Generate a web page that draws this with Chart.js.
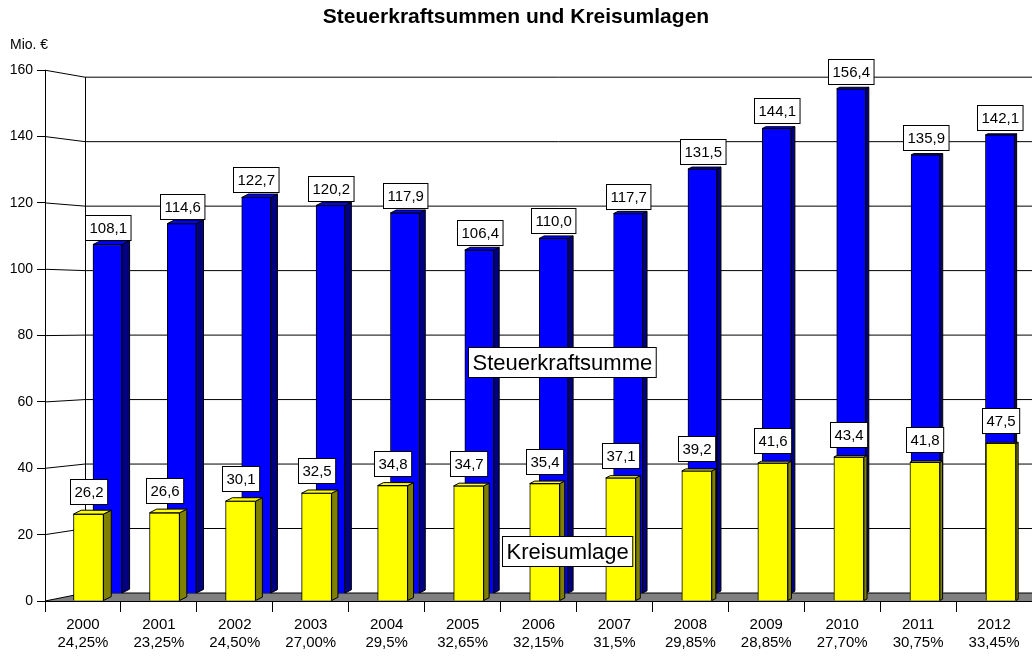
<!DOCTYPE html>
<html lang="de">

<head>
    <meta charset="UTF-8">
    <title>Steuerkraftsummen und Kreisumlagen</title>
    <style>
        body {
            margin: 0;
            background: #fff;
        }
    </style>
</head>

<body>
    <canvas id="myChart" width="1032" height="660"></canvas>

    <script src="https://cdn.jsdelivr.net/npm/chart.js"></script>

    <script>
        // data
        const years = ['2000', '2001', '2002', '2003', '2004', '2005', '2006', '2007', '2008', '2009', '2010', '2011', '2012'];
        const umlageSatz = ['24,25%', '23,25%', '24,50%', '27,00%', '29,5%', '32,65%', '32,15%', '31,5%', '29,85%', '28,85%', '27,70%', '30,75%', '33,45%'];
        const steuerkraft = [108.1, 114.6, 122.7, 120.2, 117.9, 106.4, 110.0, 117.7, 131.5, 144.1, 156.4, 135.9, 142.1];
        const kreisumlage = [26.2, 26.6, 30.1, 32.5, 34.8, 34.7, 35.4, 37.1, 39.2, 41.6, 43.4, 41.8, 47.5];
        const yTickMax = 160;
        const yTickStep = 20;

        const wallDepth = 40;   // back wall offset in px

        Chart.defaults.font.family = '"Liberation Sans", Arial, sans-serif';
        Chart.defaults.color = '#000';

        function fmt(v) {
            return v.toFixed(1).replace('.', ',');
        }

        function depthAt(chart, x) {
            const a = chart.chartArea;
            return 8 - 6 * (x - a.left) / (a.right - a.left);
        }

        function labelBox(ctx, text, cx, bottom, font, h) {
            ctx.font = font;
            const w = ctx.measureText(text).width + 8;
            const left = Math.round(cx - w / 2) + 0.5;
            const top = Math.round(bottom - h) + 0.5;
            ctx.fillStyle = '#fff';
            ctx.fillRect(left, top, w, h);
            ctx.strokeStyle = '#000';
            ctx.lineWidth = 1;
            ctx.strokeRect(left, top, w, h);
            ctx.fillStyle = '#000';
            ctx.textAlign = 'center';
            ctx.textBaseline = 'middle';
            ctx.fillText(text, left + w / 2, top + h / 2 + 1);
        }

        // floor, back wall grid, side faces, labels
        const pseudo3d = {
            id: 'pseudo3d',
            beforeDatasetsDraw(chart) {
                const { ctx, chartArea: a, scales } = chart;
                const yF = scales.y, yB = scales.y2;
                const back = a.left + wallDepth;
                ctx.save();
                ctx.fillStyle = '#808080';
                ctx.beginPath();
                ctx.moveTo(a.left, yF.getPixelForValue(0));
                ctx.lineTo(back, yB.getPixelForValue(0));
                ctx.lineTo(a.right, yB.getPixelForValue(0));
                ctx.lineTo(a.right, yF.getPixelForValue(0));
                ctx.closePath();
                ctx.fill();

                ctx.strokeStyle = '#000';
                ctx.lineWidth = 1;
                yF.ticks.forEach(t => {
                    ctx.beginPath();
                    ctx.moveTo(a.left, yF.getPixelForValue(t.value));
                    ctx.lineTo(back, yB.getPixelForValue(t.value));
                    ctx.lineTo(a.right, yB.getPixelForValue(t.value));
                    ctx.stroke();
                });
                ctx.beginPath();
                ctx.moveTo(back + 0.5, yB.getPixelForValue(0));
                ctx.lineTo(back + 0.5, yB.getPixelForValue(yTickMax));
                ctx.stroke();

                // Mio. €
                ctx.font = '14px "Liberation Sans", Arial';
                ctx.fillStyle = '#000';
                ctx.textAlign = 'left';
                ctx.textBaseline = 'middle';
                ctx.fillText('Mio. €', 10, a.top - 25);
                ctx.restore();
            },
            afterDatasetDraw(chart, args) {
                const { ctx } = chart;
                const meta = args.meta;
                const ds = chart.data.datasets[args.index];
                ctx.save();
                meta.data.forEach((bar, i) => {
                    const p = bar.getProps(['x', 'y', 'base', 'width'], true);
                    const right = p.x + p.width / 2;
                    const left = p.x - p.width / 2;
                    const dx = depthAt(chart, p.x);
                    const dy = dx * 0.5;
                    ctx.fillStyle = ds.sideColor;
                    ctx.strokeStyle = '#000';
                    ctx.lineWidth = 1;
                    ctx.beginPath();
                    ctx.moveTo(right, p.y);
                    ctx.lineTo(right + dx, p.y - dy);
                    ctx.lineTo(right + dx, p.base - dy);
                    ctx.lineTo(right, p.base);
                    ctx.closePath();
                    ctx.fill();
                    ctx.stroke();
                    ctx.fillStyle = ds.backgroundColor;
                    ctx.beginPath();
                    ctx.moveTo(left, p.y);
                    ctx.lineTo(left + dx, p.y - dy);
                    ctx.lineTo(right + dx, p.y - dy);
                    ctx.lineTo(right, p.y);
                    ctx.closePath();
                    ctx.fill();
                    ctx.stroke();

                    labelBox(ctx, fmt(ds.data[i].y), p.x, p.y - ds.labelGap, '15px "Liberation Sans", Arial', 25);
                });
                ctx.restore();
            },
            afterDatasetsDraw(chart) {
                const { ctx, scales } = chart;
                ctx.save();
                labelBox(ctx, 'Steuerkraftsumme', scales.xa.getPixelForValue(6.22), scales.y.getPixelForValue(67.5), '22px "Liberation Sans", Arial', 30);
                labelBox(ctx, 'Kreisumlage', scales.xa.getPixelForValue(6.3), scales.y.getPixelForValue(10.5), '22px "Liberation Sans", Arial', 30);
                ctx.restore();
            }
        };

        const ctx = document.getElementById('myChart').getContext('2d');
        const myChart = new Chart(ctx, {
            type: 'bar',
            data: {
                labels: years.map((y, i) => [y, umlageSatz[i]]),
                datasets: [{
                    label: 'Kreisumlage',
                    data: kreisumlage.map((v, i) => ({ x: i, y: v })),
                    xAxisID: 'xa',
                    yAxisID: 'y',
                    backgroundColor: '#ffff00',
                    sideColor: '#808000',
                    labelGap: 10,
                    borderColor: '#000',
                    borderWidth: 1,
                    barThickness: 30,
                    grouped: false,
                    order: 0
                }, {
                    label: 'Steuerkraftsumme',
                    data: steuerkraft.map((v, i) => ({ x: i, y: v })),
                    xAxisID: 'xb',
                    yAxisID: 'y2',
                    backgroundColor: '#0000ff',
                    sideColor: '#000080',
                    labelGap: 5,
                    borderColor: '#000',
                    borderWidth: 1,
                    barThickness: 29,
                    grouped: false,
                    order: 1
                }]
            },
            options: {
                responsive: false,
                animation: false,
                devicePixelRatio: 1,
                layout: { padding: { left: 0, right: 0, top: 0, bottom: 0 } },
                plugins: {
                    legend: { display: false },
                    tooltip: { enabled: false },
                    title: {
                        display: true,
                        text: 'Steuerkraftsummen und Kreisumlagen',
                        color: '#000',
                        font: { size: 21, weight: 'bold' },
                        padding: { top: 5, bottom: 40 }
                    }
                },
                scales: {
                    x: {
                        type: 'category',
                        offset: true,
                        grid: { offset: true, drawOnChartArea: false, tickLength: 11, color: '#000' },
                        border: { color: '#000', width: 1 },
                        ticks: { font: { size: 15 }, color: '#000', padding: 4, maxRotation: 0, autoSkip: false },
                        afterFit(scale) { scale.height = 59; }
                    },
                    xa: { type: 'linear', display: false, offset: false, min: -0.572, max: 12.408 },
                    xb: { type: 'linear', display: false, offset: false, min: -0.840, max: 12.431 },
                    y: {
                        min: 0,
                        max: yTickMax,
                        ticks: { stepSize: yTickStep, font: { size: 14 }, color: '#000', padding: 4 },
                        grid: { drawOnChartArea: false, tickLength: 8, color: '#000' },
                        border: { color: '#000', width: 1 },
                        afterFit(scale) { scale.width = 45; }
                    },
                    y2: { type: 'linear', display: false, min: -2.48, max: 162.17 }
                }
            },
            plugins: [pseudo3d]
        });
    </script>

</body>

</html>
